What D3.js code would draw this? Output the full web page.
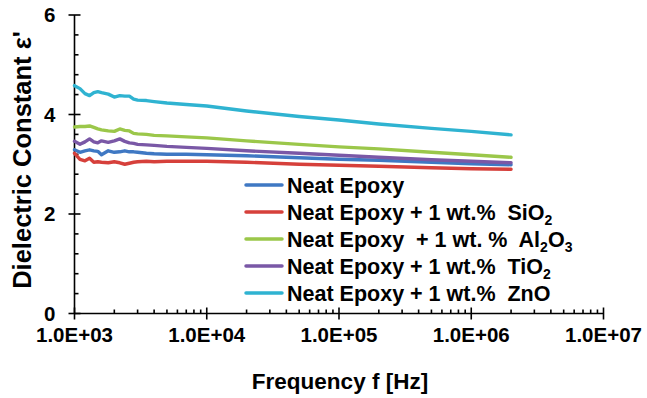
<!DOCTYPE html>
<html>
<head>
<meta charset="utf-8">
<script src="https://cdn.jsdelivr.net/npm/d3@7/dist/d3.min.js"></script>
<style>
  html, body { margin: 0; padding: 0; background: #fff; }
  svg { display: block; font-family: "Liberation Sans", Arial, sans-serif; font-weight: bold; }
</style>
</head>
<body>
<svg id="chart" width="647" height="398"></svg>
<script>
// Measurement frequencies (Hz)
const frequency = [1000, 1100, 1200, 1300, 1400, 1500, 1600, 1800, 2000, 2200, 2400, 2600, 2800,
  3000, 3500, 4000, 5000, 7000, 1e4, 2e4, 5e4, 1e5, 2e5, 5e5, 1e6, 2e6];

// Dielectric constant of each sample at those frequencies
const neatEpoxy = [3.29, 3.24, 3.27, 3.29, 3.27, 3.26, 3.19, 3.27, 3.24, 3.25, 3.27, 3.25, 3.25,
  3.24, 3.22, 3.21, 3.20, 3.20, 3.19, 3.17, 3.13, 3.10, 3.08, 3.04, 3.01, 2.99];
const withSiO2 = [3.22, 3.10, 3.07, 3.12, 3.04, 3.05, 3.04, 3.03, 3.05, 3.03, 3.00, 3.02, 3.04,
  3.05, 3.06, 3.05, 3.06, 3.06, 3.06, 3.04, 3.00, 2.98, 2.96, 2.93, 2.91, 2.90];
const withAl2O3 = [3.75, 3.76, 3.76, 3.77, 3.74, 3.71, 3.69, 3.67, 3.66, 3.71, 3.68, 3.67, 3.62,
  3.61, 3.60, 3.58, 3.57, 3.55, 3.53, 3.47, 3.40, 3.35, 3.31, 3.24, 3.19, 3.14];
const withTiO2 = [3.46, 3.40, 3.45, 3.51, 3.45, 3.43, 3.47, 3.44, 3.47, 3.51, 3.46, 3.43, 3.42,
  3.40, 3.39, 3.38, 3.36, 3.34, 3.32, 3.27, 3.22, 3.18, 3.14, 3.09, 3.06, 3.03];
const withZnO = [4.58, 4.52, 4.42, 4.38, 4.44, 4.46, 4.44, 4.41, 4.35, 4.38, 4.37, 4.37, 4.31,
  4.29, 4.28, 4.26, 4.23, 4.20, 4.17, 4.07, 3.96, 3.89, 3.81, 3.72, 3.66, 3.59];

const xTicks = [1e3, 1e4, 1e5, 1e6, 1e7];
const xTickLabels = ["1.0E+03", "1.0E+04", "1.0E+05", "1.0E+06", "1.0E+07"];
const yTicks = [0, 2, 4, 6];

// Legend entries: text pieces as [text, isSubscript]
const series = [
  { name: [["Neat Epoxy", false]], values: neatEpoxy, color: "#3f78c3" },
  { name: [["Neat Epoxy + 1 wt.%  SiO", false], ["2", true]], values: withSiO2, color: "#d6403b" },
  { name: [["Neat Epoxy  + 1 wt. %  Al", false], ["2", true], ["O", false], ["3", true]], values: withAl2O3, color: "#9bc74a" },
  { name: [["Neat Epoxy + 1 wt.%  TiO", false], ["2", true]], values: withTiO2, color: "#7a58a6" },
  { name: [["Neat Epoxy + 1 wt.%  ZnO", false]], values: withZnO, color: "#2fb3d1" }
];

const svg = d3.select("#chart");
const plotLeft = 74.5, plotRight = 603.5, plotTop = 15, plotBottom = 313.5;

const x = d3.scaleLog().domain([1e3, 1e7]).range([plotLeft, plotRight]);
const y = d3.scaleLinear().domain([0, 6]).range([plotBottom, plotTop]);

// Minor ticks (inside the plot)
const xMinor = [];
for (let e = 3; e < 7; e++) for (let m = 2; m <= 9; m++) xMinor.push(m * Math.pow(10, e));
const yMinor = d3.range(0, 6.001, 0.4).filter(v => yTicks.every(t => Math.abs(t - v) > 1e-6));

const axisG = svg.append("g").attr("stroke", "#000").attr("stroke-width", 1.6);

axisG.selectAll("line.xmin").data(xMinor).join("line").attr("class", "xmin")
  .attr("x1", d => x(d)).attr("x2", d => x(d))
  .attr("y1", plotBottom).attr("y2", plotBottom - 4);
axisG.selectAll("line.xmaj").data(xTicks).join("line").attr("class", "xmaj")
  .attr("x1", d => x(d)).attr("x2", d => x(d))
  .attr("y1", plotBottom - 6).attr("y2", plotBottom + 6);
axisG.selectAll("line.ymin").data(yMinor).join("line").attr("class", "ymin")
  .attr("x1", plotLeft).attr("x2", plotLeft + 4)
  .attr("y1", d => y(d)).attr("y2", d => y(d));
axisG.selectAll("line.ymaj").data(yTicks).join("line").attr("class", "ymaj")
  .attr("x1", plotLeft - 6).attr("x2", plotLeft + 6)
  .attr("y1", d => y(d)).attr("y2", d => y(d));
axisG.append("line").attr("x1", plotLeft).attr("x2", plotRight).attr("y1", plotBottom).attr("y2", plotBottom);
axisG.append("line").attr("x1", plotLeft).attr("x2", plotLeft).attr("y1", plotTop).attr("y2", plotBottom);

// Tick labels
svg.append("g").selectAll("text").data(xTicks).join("text")
  .attr("x", d => x(d)).attr("y", plotBottom + 28)
  .attr("text-anchor", "middle").attr("font-size", 20.5)
  .text((d, i) => xTickLabels[i]);
svg.append("g").selectAll("text").data(yTicks).join("text")
  .attr("x", plotLeft - 19).attr("y", d => y(d) + 7)
  .attr("text-anchor", "end").attr("font-size", 20.5)
  .text(d => d);

// Axis titles
svg.append("text").attr("x", 340).attr("y", 389).attr("text-anchor", "middle")
  .attr("font-size", 22.5).text("Frequency f [Hz]");
svg.append("text").attr("transform", "translate(31,160) rotate(-90)")
  .attr("text-anchor", "middle").attr("font-size", 25.5).text("Dielectric Constant ε'");

// Curves
const line = d3.line().x(d => x(d[0])).y(d => y(d[1]));
svg.append("g").selectAll("path").data(series).join("path")
  .attr("fill", "none").attr("stroke", d => d.color).attr("stroke-width", 3.4)
  .attr("stroke-linejoin", "round").attr("stroke-linecap", "round")
  .attr("d", d => line(frequency.map((f, i) => [f, d.values[i]])));

// Legend
const legend = svg.append("g");
const rowY = i => 185 + i * 27;
legend.selectAll("line").data(series).join("line")
  .attr("x1", 246).attr("x2", 282)
  .attr("y1", (d, i) => rowY(i)).attr("y2", (d, i) => rowY(i))
  .attr("stroke", d => d.color).attr("stroke-width", 3.5).attr("stroke-linecap", "round");
legend.selectAll("text").data(series).join("text")
  .attr("x", 287).attr("y", (d, i) => rowY(i) + 7.5)
  .attr("font-size", 21.5)
  .style("white-space", "pre")
  .each(function (d) {
    const t = d3.select(this);
    let shifted = false;
    d.name.forEach(([txt, sub]) => {
      const ts = t.append("tspan").text(txt);
      if (sub) { ts.attr("font-size", 14).attr("dy", 5); shifted = true; }
      else if (shifted) { ts.attr("dy", -5); shifted = false; }
    });
  });
</script>
</body>
</html>
